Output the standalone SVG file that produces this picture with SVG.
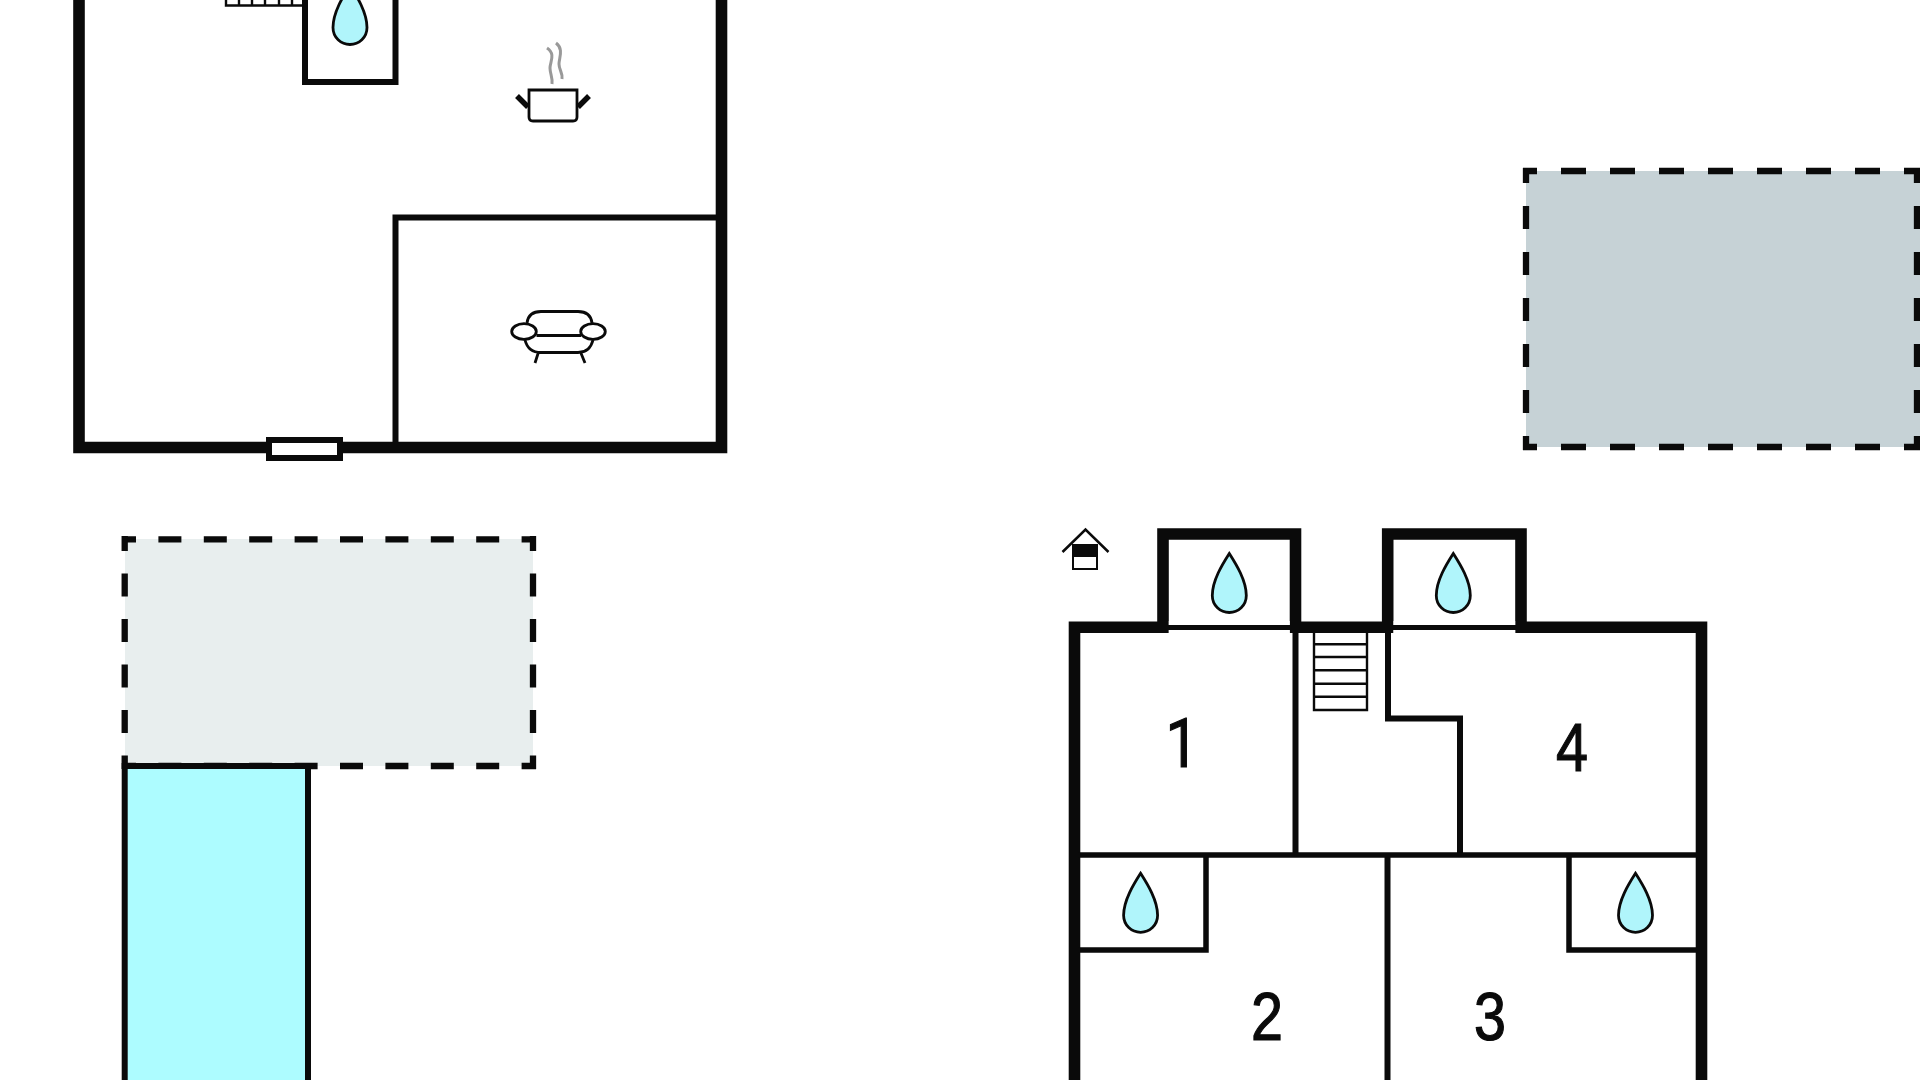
<svg xmlns="http://www.w3.org/2000/svg" width="1920" height="1080" viewBox="0 0 1920 1080">
<style>
.w{fill:none;stroke:#0a0a0a;stroke-linejoin:miter;stroke-linecap:butt}
.t11{stroke-width:11.600}.t6{stroke-width:6}.t5{stroke-width:5.500}.t2{stroke-width:2.400}
.ic{fill:none;stroke:#0a0a0a;stroke-width:2.800}
.dh{stroke:#0a0a0a;stroke-width:6.300;fill:none}
.num{font-family:"Liberation Sans",Arial,sans-serif;font-size:68.500px;fill:#0a0a0a;stroke:#0a0a0a;stroke-width:1.200;text-anchor:middle}
.one{font-family:Roboto,"Liberation Sans",sans-serif}
.drop{fill:#b0f5fb;stroke:#0a0a0a;stroke-width:2.800}
</style>
<defs>
<path id="drop" class="drop" d="M0 0C7 11 17 27 17 42C17 52 9 59 0 59C-9 59 -17 52 -17 42C-17 27 -7 11 0 0Z"/>
</defs>
<rect width="1920" height="1080" fill="#fff"/>

<g id="terrace-right">
<rect x="1526" y="171" width="394" height="276" fill="#c6d2d6"/>
<path class="dh" d="M1523 171H1920" stroke-dasharray="25 24" stroke-dashoffset="11"/>
<path class="dh" d="M1523 447H1920" stroke-dasharray="25 24" stroke-dashoffset="11"/>
<path class="dh" d="M1526 168V450" stroke-dasharray="23 23" stroke-dashoffset="8"/>
<path class="dh" d="M1917 168V450" stroke-dasharray="23 23" stroke-dashoffset="8"/>
</g>

<g id="terrace-left">
<rect x="125" y="539" width="408" height="227" fill="#e8eeee"/>
<path class="dh" d="M122 539.300H536" stroke-dasharray="23 22.400" stroke-dashoffset="9"/>
<path class="dh" d="M122 766H536" stroke-dasharray="23 22.400" stroke-dashoffset="9"/>
<path class="dh" d="M124.700 536V769" stroke-dasharray="23 22.500" stroke-dashoffset="8"/>
<path class="dh" d="M533 536V769" stroke-dasharray="23 22.500" stroke-dashoffset="8"/>
</g>

<g id="pool">
<path fill="#adfcff" stroke="#0a0a0a" stroke-width="6" d="M124.700 1085V766H308V1085"/>
</g>

<g id="ground-floor">
<path class="w t11" d="M79 -10V447.500H721.500V-10"/>
<path class="w t6" d="M395.500 445V217.500H720"/>
<path class="w t6" d="M305 -10V82H395.500V-10"/>
<rect id="window" x="269" y="440" width="71" height="18" fill="#fff" stroke="#0a0a0a" stroke-width="6"/>
<path class="w t2" d="M226 -5V5.500H304M239 -5V5M252 -5V5M265 -5V5M279 -5V5M292 -5V5"/>
<use href="#drop" x="350" y="-14.500"/>
</g>

<g id="pot">
<path fill="#fff" stroke="#0a0a0a" stroke-width="2.800" d="M529 90H577V117Q577 121 573 121H533Q529 121 529 117Z"/>
<path fill="none" stroke="#0a0a0a" stroke-width="5.500" d="M528 107L517 96M578 107L589 96"/>
<path fill="none" stroke="#999" stroke-width="3" d="M547 48C556 54 550 62 550 68C550 74 553 78 552 84M556 43C564 49 559 58 559 64C559 70 563 73 562 79"/>
</g>

<g id="sofa">
<path class="ic" d="M527 323C528 315 533 311.500 541 311.500H578C586 311.500 591 315 592 323"/>
<ellipse class="ic" cx="524" cy="331.500" rx="12.300" ry="7.800"/>
<ellipse class="ic" cx="593" cy="331.500" rx="12.300" ry="7.800"/>
<path class="ic" d="M536.500 335.500H581M525 340C527 348 532 352.500 541 352.500H578C586 352.500 591 348 593 340M538.500 352L535 363M580.500 352L585 363"/>
</g>

<g id="upper-floor">
<path class="w t11" d="M1074.500 1085V627.200H1163V534H1295.500V627.200H1387.700V534H1521V627.200H1701.500V1085"/>
<path fill="#fff" stroke="none" d="M1168.800 621H1289.700V633H1168.800ZM1393.500 621H1515.200V633H1393.500Z"/>
<path class="w" stroke-width="5" d="M1168 627.500H1290M1393 627.500H1516"/>
<path class="w t6" d="M1295.500 630V855M1388 630V718.500H1460V855M1387.500 855V1085"/>
<path class="w t5" d="M1078 855H1698M1078 950H1206V855M1698 950H1569V855"/>
<path class="w t2" d="M1314 632V710H1367V632M1314 644.300H1367M1314 657H1367M1314 670.300H1367M1314 683.700H1367M1314 696.700H1367"/>
<use href="#drop" x="1229.300" y="553.500"/>
<use href="#drop" x="1453.300" y="553.500"/>
<use href="#drop" x="1140.600" y="873.300"/>
<use href="#drop" x="1635.500" y="873.300"/>
</g>

<g id="house-icon">
<path fill="none" stroke="#0a0a0a" stroke-width="2.500" d="M1062.500 552L1085.500 529.500L1108.500 552"/>
<rect x="1073" y="545" width="24" height="24" fill="#fff" stroke="#0a0a0a" stroke-width="2"/>
<rect x="1072" y="544" width="26" height="13" fill="#0a0a0a"/>
</g>

<g id="room-1"><text class="num one" transform="translate(1182 767) scale(.86 1)">1</text></g>
<g id="room-2"><text class="num" transform="translate(1267 1040) scale(.84 1)">2</text></g>
<g id="room-3"><text class="num" transform="translate(1490 1040) scale(.84 1)">3</text></g>
<g id="room-4"><text class="num" transform="translate(1572 770.500) scale(.84 1)">4</text></g>
</svg>
